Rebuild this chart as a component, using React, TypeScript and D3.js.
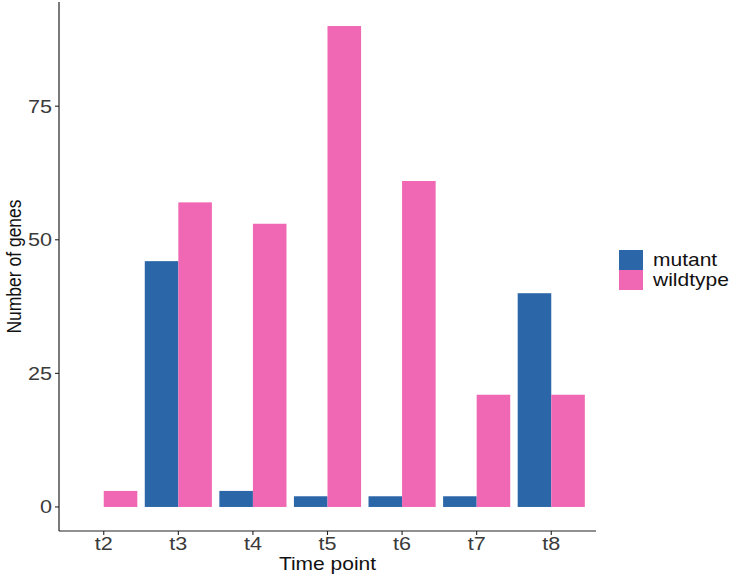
import React from "react";
import * as d3 from "d3";

const timePoints = ["t2", "t3", "t4", "t5", "t6", "t7", "t8"];
const groups = ["mutant", "wildtype"];
const mutantValues = [0, 46, 3, 2, 2, 2, 40];
const wildtypeValues = [3, 57, 53, 90, 61, 21, 21];
const yTicks = [0, 25, 50, 75];
const colors = ["#2B66A8", "#F067B4"];

const W = 733;
const H = 577;
const left = 59;
const right = 596;
const top = 2;
const bottom = 531;
const SX = 1.2; // horizontal stretch of the text in the source picture

export default function App() {
  const rows = timePoints.map((t, i) => ({
    t,
    mutant: mutantValues[i],
    wildtype: wildtypeValues[i],
  }));

  const x = d3
    .scaleBand<string>()
    .domain(timePoints)
    .range([left, right])
    .paddingInner(0.1)
    .paddingOuter(0.15);
  const xSub = d3.scaleBand<string>().domain(groups).range([0, x.bandwidth()]).padding(0);
  const color = d3.scaleOrdinal<string, string>().domain(groups).range(colors);

  const maxV = d3.max(wildtypeValues.concat(mutantValues)) as number;
  const pad = maxV * 0.05;
  const y = d3.scaleLinear().domain([-pad, maxV + pad]).range([bottom, top]);

  const font = "'Liberation Sans', Arial, sans-serif";

  return (
    <svg
      width={W}
      height={H}
      style={{ position: "absolute", left: 0, top: 0, background: "#fff" }}
      fontFamily={font}
    >
      {/* bars */}
      {rows.map((r) => (
        <g key={r.t} transform={`translate(${x(r.t)},0)`}>
          {groups.map((g) => {
            const v = (r as any)[g] as number;
            return (
              <rect
                key={g}
                x={xSub(g)}
                y={y(v)}
                width={xSub.bandwidth()}
                height={y(0) - y(v)}
                fill={color(g)}
              />
            );
          })}
        </g>
      ))}

      {/* y axis */}
      <line x1={left} x2={left} y1={top} y2={bottom} stroke="#222" strokeWidth={1.2} />
      {yTicks.map((d) => (
        <g key={d}>
          <line x1={left - 4} x2={left} y1={y(d)} y2={y(d)} stroke="#222" strokeWidth={1.1} />
          <text
            transform={`translate(${left - 7},${y(d) + 6.5}) scale(${SX},1)`}
            textAnchor="end"
            fontSize={18}
            fill="#3a3a3a"
          >
            {d}
          </text>
        </g>
      ))}

      {/* x axis */}
      <line x1={left} x2={right} y1={bottom} y2={bottom} stroke="#222" strokeWidth={1.2} />
      {timePoints.map((t) => {
        const cx = (x(t) as number) + x.bandwidth() / 2;
        return (
          <g key={t}>
            <line x1={cx} x2={cx} y1={bottom} y2={bottom + 4} stroke="#222" strokeWidth={1.1} />
            <text
              transform={`translate(${cx},${bottom + 19}) scale(${SX},1)`}
              textAnchor="middle"
              fontSize={18}
              fill="#3a3a3a"
            >
              {t}
            </text>
          </g>
        );
      })}

      {/* axis titles */}
      <text
        transform={`translate(${(left + right) / 2},${570}) scale(${SX},1)`}
        textAnchor="middle"
        fontSize={17.5}
        fill="#111"
      >
        Time point
      </text>
      <text
        transform={`translate(21,${(top + bottom) / 2}) scale(${SX},1) rotate(-90)`}
        textAnchor="middle"
        fontSize={17.5}
        fill="#111"
      >
        Number of genes
      </text>

      {/* legend */}
      {groups.map((g, i) => (
        <g key={g} transform={`translate(619,${250 + i * 20})`}>
          <rect width={24} height={20} fill={color(g)} />
          <text
            transform={`translate(34,16) scale(${SX},1)`}
            fontSize={17.5}
            fill="#111"
          >
            {g}
          </text>
        </g>
      ))}
    </svg>
  );
}
